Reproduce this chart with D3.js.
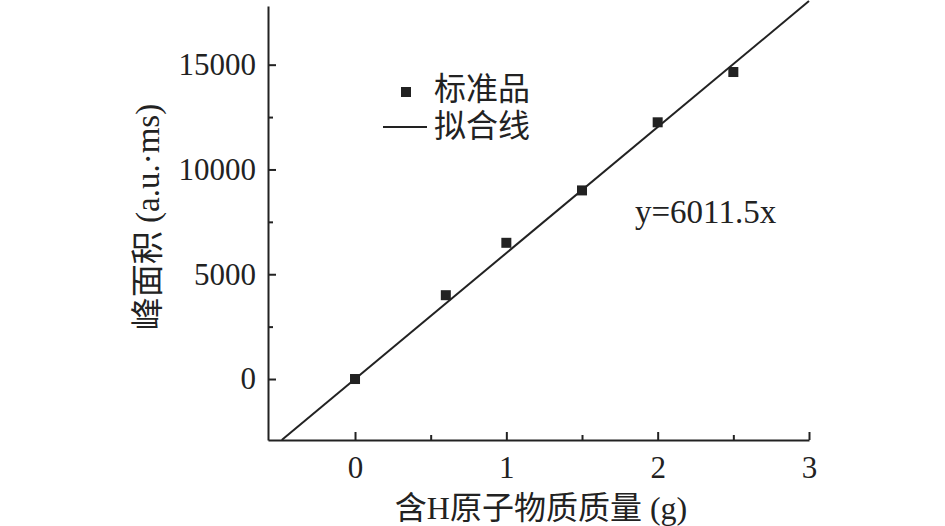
<!DOCTYPE html>
<html>
<head>
<meta charset="utf-8">
<script src="https://cdn.jsdelivr.net/npm/d3@7"></script>
<style>
  html, body { margin: 0; padding: 0; background: #fff; }
  svg { display: block; }
  text { font-family: "Liberation Serif", "Noto Sans CJK SC", serif; fill: #222; }
</style>
</head>
<body>
<svg id="chart" width="945" height="526"></svg>
<script>
// ---- data ----
const massX = [0, 0.6, 1.0, 1.5, 2.0, 2.5];
const peakArea = [0, 4000, 6500, 9000, 12250, 14650];
const slope = 6011.5;
const xTicks = [0, 1, 2, 3];
const xMinorTicks = [0.5, 1.5, 2.5];
const yTicks = [0, 5000, 10000, 15000];
const yMinorTicks = [2500, 7500, 12500];
const xDomain = [-0.575, 3];
const yDomain = [-2910, 17800];
const xTitle = "含H原子物质质量 (g)";
const yTitle = "峰面积 (a.u.·ms)";
const legendLabels = ["标准品", "拟合线"];
const equationText = "y=6011.5x";

// ---- layout ----
const svg = d3.select("#chart");
const color = "#222";
const mLeft = 268, mRight = 809, mTop = 6, mBottom = 440;
const x = d3.scaleLinear().domain(xDomain).range([mLeft, mRight]);
const y = d3.scaleLinear().domain(yDomain).range([mBottom, mTop]);

// axes (ticks inward)
const gx = svg.append("g").attr("transform", `translate(0,${mBottom})`);
gx.call(d3.axisBottom(x).tickValues(xTicks).tickSize(-8).tickSizeOuter(0).tickFormat(d3.format("d")));
const gxm = svg.append("g").attr("transform", `translate(0,${mBottom})`);
gxm.call(d3.axisBottom(x).tickValues(xMinorTicks).tickSize(-5).tickSizeOuter(0).tickFormat(""));
gxm.select(".domain").remove();

const gy = svg.append("g").attr("transform", `translate(${mLeft},0)`);
gy.call(d3.axisLeft(y).tickValues(yTicks).tickSize(-8).tickSizeOuter(0).tickFormat(d3.format("d")));
const gym = svg.append("g").attr("transform", `translate(${mLeft},0)`);
gym.call(d3.axisLeft(y).tickValues(yMinorTicks).tickSize(-5).tickSizeOuter(0).tickFormat(""));
gym.select(".domain").remove();

svg.selectAll(".domain").attr("stroke", color).attr("stroke-width", 2);
svg.selectAll(".tick line").attr("stroke", color).attr("stroke-width", 2);
gx.selectAll(".tick text").attr("y", 16).attr("font-size", 31)
  .attr("font-family", "Liberation Serif").attr("fill", color);
gy.selectAll(".tick text").attr("x", -12).attr("font-size", 31)
  .attr("font-family", "Liberation Serif").attr("fill", color);

// axis titles
svg.append("text").attr("x", 541).attr("y", 519)
  .attr("text-anchor", "middle").attr("font-size", 32).text(xTitle);
svg.append("text").attr("transform", `translate(159,217) rotate(-90)`)
  .attr("text-anchor", "middle").attr("font-size", 33).text(yTitle);

// fit line
const xStart = yDomain[0] / slope;
const fitPts = [xStart, xDomain[1]].map(v => [v, slope * v]);
svg.append("path")
  .attr("d", d3.line().x(d => x(d[0])).y(d => y(d[1]))(fitPts))
  .attr("stroke", color).attr("stroke-width", 2).attr("fill", "none");

// points
const sq = 10;
svg.selectAll("rect.pt").data(massX.map((v, i) => [v, peakArea[i]])).enter()
  .append("rect").attr("class", "pt")
  .attr("x", d => x(d[0]) - sq / 2).attr("y", d => y(d[1]) - sq / 2)
  .attr("width", sq).attr("height", sq).attr("fill", color);

// legend
const lg = svg.append("g");
lg.append("rect").attr("x", 401).attr("y", 87).attr("width", 10).attr("height", 10).attr("fill", color);
lg.append("text").attr("x", 434).attr("y", 100).attr("font-size", 32).text(legendLabels[0]);
lg.append("line").attr("x1", 383).attr("x2", 427).attr("y1", 127).attr("y2", 127)
  .attr("stroke", color).attr("stroke-width", 2);
lg.append("text").attr("x", 434).attr("y", 137).attr("font-size", 32).text(legendLabels[1]);

// equation
svg.append("text").attr("x", 635).attr("y", 223).attr("font-size", 33)
  .attr("font-family", "Liberation Serif").text(equationText);
</script>
</body>
</html>
